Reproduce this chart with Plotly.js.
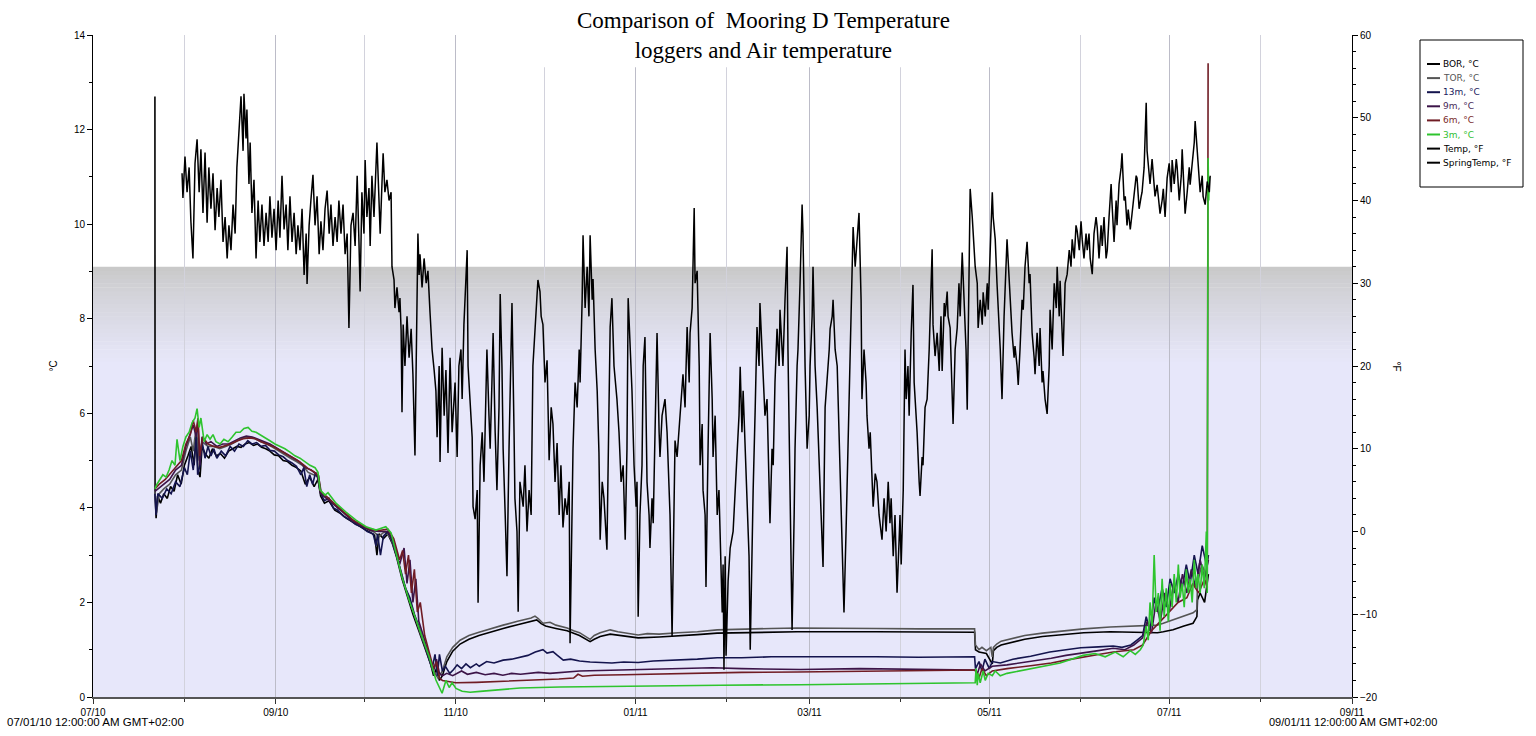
<!DOCTYPE html>
<html>
<head>
<meta charset="utf-8">
<script src="https://cdn.plot.ly/plotly-3.0.1.min.js"></script>
<style>html,body{margin:0;padding:0;background:#fff;}#chart{width:1536px;height:736px;}</style>
</head>
<body>
<div id="chart"></div>
<script>
// ---------------- DATA (days since 2010-07-01) ----------------
const seriesNames = ['BOR, °C','TOR, °C','13m, °C','9m, °C','6m, °C','3m, °C','Temp, °F','SpringTemp, °F'];

const borDay = [21.0,21.05,21.4,21.9,22.9,24.0,25.2,26.3,27.5,28.7,29.9,31.0,32.2,33.3,34.3,35.0,35.6,36.3,37.0,38.0,39.3,40.5,41.8,43.2,44.6,46.0,47.4,48.8,50.2,51.6,53.0,54.4,55.8,57.2,58.6,60.0,61.5,63.0,64.5,66.0,67.5,69.0,70.5,72.0,73.5,75.0,76.3,77.2,78.5,80.0,82.0,84.0,86.0,88.0,90.0,92.0,94.0,95.5,96.3,97.0,98.5,100.0,101.5,103.0,104.8,106.5,108.5,110.5,112.5,114.5,115.5,116.5,117.5,118.5,120.0,122.0,124.5,127.5,130.9,135.0,139.1,144.0,148.6,150.5,152.0,153.5,157.0,160.8,165.0,168.6,170.0,172.0,175.4,181.0,184.9,192.0,198.4,205.0,211.7,220.0,238.8,265.6,299.0,299.3,300.5,303.0,305.0,305.4,306.5,308.0,311.0,316.0,322.0,330.0,336.0,345.0,352.0,358.0,361.0,363.0,366.3,370.0,373.1,374.4,374.6,375.5,377.0,378.3];
const borC = [12.7,4.3,3.78,4.25,4.1,4.3,4.2,4.45,4.35,4.7,4.5,4.9,5.1,5.3,4.9,5.55,4.8,4.65,5.3,5.15,5.05,5.25,5.1,5.15,5.05,5.2,5.25,5.3,5.28,5.35,5.38,5.32,5.35,5.28,5.25,5.2,5.12,5.1,5.0,4.98,4.9,4.85,4.78,4.5,4.65,4.45,4.6,4.25,4.1,4.15,3.95,3.88,3.78,3.7,3.62,3.55,3.48,3.42,3.0,3.45,3.35,3.45,3.25,2.95,2.5,2.15,1.75,1.4,1.05,0.7,0.45,0.6,0.35,0.45,0.75,0.97,1.12,1.22,1.3,1.38,1.45,1.53,1.6,1.63,1.55,1.5,1.45,1.4,1.3,1.17,1.22,1.28,1.33,1.28,1.25,1.27,1.29,1.32,1.35,1.36,1.38,1.38,1.37,1.0,0.95,0.92,0.7,0.98,1.05,1.1,1.15,1.22,1.28,1.33,1.36,1.38,1.37,1.36,1.36,1.38,1.42,1.5,1.56,1.7,2.05,2.2,2.0,2.6];

const torDay = [21.0,21.5,22.5,24.0,26.0,28.0,30.0,31.5,33.0,34.0,35.0,36.0,37.0,39.0,41.0,43.0,45.0,47.0,49.0,51.0,53.0,55.0,57.0,59.0,61.0,63.0,65.0,67.0,69.0,71.0,73.0,75.0,76.5,77.5,80.0,83.0,86.0,89.0,92.0,95.0,97.0,99.0,101.0,103.0,105.0,107.0,109.0,111.0,113.0,115.0,117.0,118.5,120.0,122.0,124.5,127.5,130.9,135.0,139.1,144.0,148.6,149.9,151.0,152.6,155.0,157.0,160.8,163.0,165.0,168.6,170.0,172.0,175.4,178.0,181.0,184.9,188.0,192.0,198.4,205.0,211.7,220.0,230.0,238.8,250.0,265.6,280.0,290.0,299.0,299.3,300.5,301.5,303.0,304.5,305.0,305.4,306.5,308.0,311.0,316.0,322.0,330.0,336.0,345.0,352.0,356.0,360.9,363.0,366.3,370.0,373.1,374.4,374.6,376.0,377.5,378.3];
const torC = [4.35,3.9,4.3,4.4,4.5,4.7,4.8,5.2,5.5,5.2,5.7,5.0,5.4,5.3,5.3,5.25,5.3,5.35,5.42,5.48,5.5,5.46,5.4,5.35,5.28,5.2,5.12,5.05,4.98,4.9,4.75,4.7,4.65,4.3,4.2,4.0,3.85,3.7,3.58,3.5,3.4,3.5,3.35,3.0,2.5,2.1,1.7,1.35,1.0,0.6,0.4,0.55,0.85,1.05,1.2,1.3,1.37,1.45,1.52,1.6,1.67,1.71,1.66,1.56,1.58,1.52,1.46,1.4,1.36,1.22,1.3,1.36,1.42,1.38,1.35,1.31,1.34,1.33,1.36,1.38,1.42,1.44,1.45,1.46,1.46,1.45,1.44,1.44,1.44,1.1,1.0,1.05,0.98,1.05,0.85,1.05,1.12,1.18,1.23,1.3,1.35,1.4,1.44,1.48,1.5,1.52,1.52,1.56,1.63,1.7,1.78,1.85,2.4,2.8,2.6,3.0];

const m13Day = [21.0,21.4,22.0,23.5,25.0,26.5,28.0,29.5,31.0,32.0,33.0,34.0,35.0,35.5,36.3,37.0,38.0,39.0,40.0,41.0,42.0,43.5,45.0,46.5,48.0,49.5,51.0,52.5,54.0,55.5,57.0,58.5,60.0,61.5,63.0,64.5,66.0,67.5,69.0,70.5,71.5,72.5,73.5,74.5,75.5,76.5,77.3,78.5,80.0,81.5,83.0,85.0,87.0,89.0,91.0,93.0,95.0,96.0,96.5,97.5,98.5,100.0,101.5,103.0,104.5,106.0,107.5,109.0,110.5,112.0,113.5,115.0,116.0,116.8,117.5,118.5,119.5,121.0,122.3,123.5,125.0,126.5,128.0,130.0,131.0,133.5,136.0,139.1,142.0,145.0,147.5,150.0,151.5,152.6,154.0,156.0,157.5,159.5,162.0,165.0,168.6,172.0,176.0,180.0,184.9,190.0,198.4,205.0,211.7,220.0,230.0,238.8,250.0,265.6,280.0,290.0,299.0,299.3,300.5,301.5,302.5,304.0,305.0,307.7,312.0,318.0,324.5,330.0,335.0,341.0,346.0,349.0,352.0,354.0,356.0,357.2,358.5,359.9,361.0,362.6,364.0,365.3,366.7,368.1,369.4,370.8,372.1,373.5,374.8,376.2,377.6,378.3];
const m13C = [4.3,3.85,4.3,4.2,4.4,4.3,4.55,4.45,4.85,4.7,5.2,4.8,5.5,4.7,4.9,5.4,5.05,5.3,5.1,5.25,5.05,5.2,5.1,5.3,5.2,5.35,5.3,5.42,5.35,5.38,5.3,5.32,5.22,5.2,5.12,5.08,5.0,4.95,4.88,4.7,4.85,4.45,4.7,4.5,4.75,4.6,4.3,4.15,4.2,4.0,3.95,3.82,3.75,3.65,3.6,3.5,3.45,3.2,3.45,3.0,3.4,3.5,3.3,3.0,2.65,2.3,2.1,1.75,1.5,1.2,0.9,0.6,0.9,0.45,0.9,0.55,0.65,0.5,0.58,0.68,0.6,0.7,0.62,0.7,0.65,0.75,0.72,0.78,0.8,0.85,0.88,0.95,0.98,1.0,0.93,0.96,0.88,0.78,0.8,0.76,0.74,0.73,0.72,0.74,0.73,0.76,0.78,0.8,0.83,0.83,0.85,0.85,0.86,0.85,0.84,0.85,0.85,0.6,0.75,0.55,0.8,0.6,0.75,0.72,0.8,0.86,0.95,1.0,1.04,1.06,1.08,1.05,1.1,1.2,1.3,1.7,1.4,2.1,1.8,2.3,1.9,2.5,2.2,2.6,2.3,2.8,2.4,3.0,2.6,3.2,2.8,3.0];

const m9Day = [21.0,22.0,24.0,26.0,28.0,30.0,31.5,33.0,34.0,35.0,35.6,36.2,37.0,38.5,40.0,42.0,44.0,46.0,48.0,50.0,52.0,54.0,56.0,58.0,60.0,62.0,64.0,66.0,68.0,70.0,72.0,74.0,76.0,77.2,79.0,82.0,85.0,88.0,91.0,94.0,97.0,100.0,102.0,104.0,105.5,106.5,107.5,108.5,109.5,110.5,112.0,114.0,115.5,116.5,117.5,118.5,120.0,122.0,125.0,127.0,130.0,133.0,136.0,139.0,142.0,145.0,148.0,151.0,155.0,160.0,165.0,172.0,180.0,190.0,200.0,210.0,220.0,240.0,260.0,280.0,299.0,300.0,301.0,302.5,305.0,310.0,318.0,325.0,330.0,336.0,341.0,346.0,350.0,353.0,356.0,357.5,359.0,360.5,362.0,363.5,365.0,366.5,368.0,369.5,371.0,372.5,374.0,375.5,377.0,378.3];
const m9C = [4.35,4.4,4.5,4.6,4.8,4.9,5.3,5.6,5.75,5.5,5.85,4.9,5.5,5.35,5.4,5.3,5.35,5.35,5.42,5.48,5.52,5.5,5.45,5.4,5.35,5.28,5.2,5.12,5.05,4.98,4.85,4.8,4.7,4.3,4.2,4.05,3.9,3.72,3.62,3.52,3.5,3.5,3.3,2.8,3.15,2.4,2.9,2.0,2.5,1.6,1.3,0.9,0.55,0.8,0.5,0.45,0.5,0.45,0.55,0.48,0.52,0.47,0.5,0.46,0.5,0.48,0.5,0.52,0.5,0.53,0.55,0.56,0.57,0.58,0.6,0.62,0.6,0.58,0.6,0.58,0.57,0.5,0.7,0.55,0.65,0.68,0.75,0.82,0.88,0.93,0.98,1.03,1.0,1.1,1.25,1.6,1.35,2.0,1.6,2.2,1.8,2.4,2.0,2.6,2.2,2.7,2.3,2.9,2.5,2.9];

const m6Day = [21.0,22.5,24.5,26.5,28.5,30.0,31.5,33.0,34.0,35.0,35.6,36.2,37.2,39.0,41.0,43.0,45.0,47.0,49.0,51.0,53.0,55.0,57.0,59.0,61.0,63.0,65.0,67.0,69.0,71.0,73.0,75.0,76.5,77.2,79.0,82.0,85.0,88.0,91.0,94.0,97.0,100.0,102.0,104.0,105.0,106.0,107.0,108.0,109.0,110.0,111.0,112.5,114.0,115.5,116.5,117.5,118.5,123.0,130.0,140.0,150.0,158.0,163.0,164.5,166.0,170.0,180.0,198.4,220.0,238.8,270.0,299.0,299.5,300.5,301.5,303.0,305.0,310.0,318.0,325.0,330.0,336.0,341.0,346.0,350.0,353.0,356.0,359.0,362.0,365.0,368.0,371.0,373.0,375.0,377.0,377.9,378.2];
const m6C = [4.4,4.5,4.6,4.75,4.9,5.0,5.35,5.55,5.85,5.6,5.9,5.1,5.5,5.35,5.3,5.28,5.32,5.36,5.42,5.46,5.48,5.46,5.4,5.35,5.3,5.23,5.16,5.08,5.02,4.93,4.83,4.76,4.68,4.35,4.25,4.08,3.92,3.75,3.64,3.55,3.52,3.55,3.35,2.9,3.1,2.6,3.0,2.2,2.7,1.8,2.0,1.3,0.95,0.6,0.75,0.4,0.35,0.3,0.31,0.33,0.35,0.38,0.4,0.48,0.44,0.46,0.47,0.5,0.52,0.53,0.55,0.57,0.55,0.4,0.6,0.45,0.55,0.6,0.66,0.72,0.78,0.85,0.9,0.95,0.98,1.0,1.1,1.4,1.6,1.8,2.0,2.1,2.4,2.2,2.5,2.3,13.4];

const m3Day = [21.0,21.7,22.7,23.7,24.8,25.8,26.8,27.8,28.5,29.5,30.5,31.5,32.6,33.6,34.6,35.3,36.0,36.6,37.7,38.7,39.7,40.7,41.7,43.1,44.4,45.8,47.2,48.5,49.9,51.2,52.6,53.9,55.3,56.6,58.3,60.0,61.7,63.4,65.1,66.8,68.5,70.2,71.9,73.6,75.3,76.3,77.0,78.7,79.7,82.4,85.8,89.2,92.6,96.0,99.3,101.1,102.8,104.8,107.2,109.6,111.6,114.0,116.3,118.4,119.7,120.8,121.8,123.1,125.2,127.9,131.3,138.1,144.8,158.4,172.0,185.5,212.7,239.8,267.0,287.3,299.2,299.5,299.9,300.2,300.9,301.9,302.6,303.6,305.0,306.0,307.7,310.0,314.4,321.2,328.0,335.8,339.9,343.3,346.7,349.4,351.8,353.5,355.2,356.2,357.2,357.9,358.5,359.2,359.9,360.6,361.3,361.9,362.6,363.3,364.0,364.7,365.3,366.0,366.7,367.4,368.1,368.7,369.4,370.1,370.8,371.5,372.1,372.8,373.5,374.2,374.8,375.5,376.2,376.9,377.6,377.9,378.2,378.4,378.6];
const m3C = [4.4,4.5,4.6,4.7,4.65,4.8,5.0,4.9,5.45,5.0,5.3,5.5,5.6,5.8,5.9,6.1,5.7,5.9,5.4,5.55,5.45,5.55,5.4,5.35,5.45,5.4,5.5,5.6,5.6,5.68,5.7,5.62,5.6,5.55,5.5,5.42,5.35,5.3,5.25,5.18,5.1,5.05,4.97,4.9,4.85,4.75,4.38,4.27,4.32,4.1,3.91,3.74,3.6,3.53,3.6,3.47,3.04,2.54,2.05,1.63,1.27,0.85,0.36,0.08,0.35,0.2,0.3,0.18,0.12,0.1,0.12,0.15,0.19,0.21,0.22,0.24,0.25,0.26,0.28,0.29,0.3,0.6,0.25,0.5,0.3,0.55,0.35,0.5,0.45,0.55,0.45,0.5,0.55,0.63,0.72,0.88,0.92,0.85,0.95,0.85,0.98,0.9,1.0,1.1,1.5,1.2,2.0,1.5,3.0,1.8,2.2,1.4,2.5,1.7,2.3,1.6,2.4,1.9,2.6,2.0,2.8,2.1,2.4,1.9,2.7,2.2,2.5,2.0,2.9,2.3,2.6,2.2,2.8,2.3,3.5,2.2,11.4,10.5,11.0];

const airDay = [
30.2,30.5,31.2,31.9,32.6,33.2,33.9,34.6,35.3,36.0,
36.6,37.3,38.0,38.7,39.3,40.0,40.7,41.4,42.1,42.7,
43.4,44.1,44.8,45.5,46.1,46.8,47.5,48.2,48.8,49.5,
50.2,50.9,51.2,51.9,52.2,52.9,53.3,53.9,54.6,55.3,
56.0,56.6,57.3,58.0,58.7,59.4,60.0,60.7,61.4,62.1,
62.8,63.4,64.1,64.8,65.5,66.1,66.8,67.5,68.2,68.9,
69.5,70.2,70.9,71.6,72.3,72.6,73.3,73.9,74.6,75.3,
76.0,76.7,77.3,78.0,78.7,79.4,80.1,80.7,81.4,82.1,
82.8,83.4,84.1,84.8,85.5,86.2,86.8,87.5,88.2,88.9,
89.6,90.2,90.6,91.2,91.9,92.3,92.9,93.6,94.0,94.6,
95.3,96.3,97.0,97.4,98.0,98.4,99.0,99.7,100.4,101.1,
101.4,102.1,102.4,103.1,103.8,104.1,104.5,104.8,105.2,105.8,
106.5,107.2,107.9,108.5,109.2,109.6,109.9,110.2,110.6,110.9,
111.6,112.3,113.0,113.6,114.3,115.0,115.7,116.3,116.7,117.4,
117.7,118.4,119.1,119.7,120.4,121.1,121.8,122.8,123.5,124.1,
124.8,125.2,125.8,126.9,127.2,127.9,128.6,128.9,129.6,130.3,
130.6,131.3,132.0,132.6,133.6,134.3,134.7,135.3,135.7,136.4,
137.0,137.7,138.1,138.7,139.1,139.8,140.4,141.1,142.1,142.8,
143.1,143.8,144.2,144.8,145.9,146.5,147.2,147.9,148.6,149.2,
150.3,150.9,151.6,152.0,152.6,153.3,154.0,154.7,155.4,156.0,
156.7,157.4,158.1,158.7,159.4,160.1,160.8,161.5,161.8,162.5,
162.8,163.5,164.2,164.9,165.2,165.9,166.2,166.9,167.6,168.2,
168.6,169.3,169.6,170.3,171.0,171.6,172.0,172.7,173.3,174.3,
175.0,175.4,176.0,176.7,177.7,178.4,179.1,179.8,180.5,181.1,
181.5,182.2,182.8,183.5,184.2,184.5,184.9,185.5,186.2,186.6,
187.2,187.9,188.6,188.9,189.6,190.0,190.6,191.3,192.0,192.3,
193.0,194.0,194.7,195.0,195.7,196.4,197.1,197.4,198.1,199.1,
199.8,200.1,200.8,201.5,202.2,202.5,203.2,203.9,204.2,204.9,
205.6,205.9,206.6,206.9,207.6,207.9,208.6,209.3,210.0,210.3,
211.0,211.7,212.3,213.0,213.4,213.7,214.0,214.4,214.7,215.4,
216.1,217.1,217.8,218.4,219.1,219.5,220.1,220.5,221.2,221.8,
222.5,222.9,223.5,223.9,224.6,225.2,225.9,226.2,226.9,227.3,
227.9,228.6,229.3,229.6,230.3,230.7,231.3,232.0,232.7,233.0,
233.7,234.0,234.7,235.4,235.7,236.4,236.8,237.1,237.8,238.1,
238.8,239.1,239.8,240.5,240.8,241.5,242.2,242.9,243.2,243.9,
244.2,244.9,245.6,246.3,246.6,247.3,247.6,248.3,249.0,249.7,
250.0,250.7,251.0,251.7,252.4,253.0,253.4,254.1,254.7,255.4,
255.8,256.4,256.8,257.5,257.8,258.5,259.1,259.8,260.5,260.8,
261.5,262.2,262.5,263.2,263.6,264.2,264.6,265.3,265.9,266.6,
267.6,268.3,269.0,269.7,270.3,270.7,271.4,272.0,272.7,273.4,
273.7,274.1,274.8,275.4,275.8,276.4,276.8,277.5,278.1,278.5,
279.2,279.5,280.2,280.5,281.2,281.5,282.2,282.9,283.6,283.9,
284.6,284.9,285.6,286.3,287.0,287.6,288.0,288.7,289.0,289.7,
290.0,290.7,291.0,291.7,292.4,293.1,293.7,294.1,294.8,295.4,
296.1,296.5,297.1,297.5,298.2,298.5,299.2,299.9,300.2,300.9,
301.6,301.9,302.6,303.3,303.6,304.3,305.0,305.3,306.0,306.6,
307.0,307.7,308.3,309.0,310.0,310.7,311.0,311.7,312.4,312.7,
313.4,313.8,314.4,315.1,315.5,316.1,316.8,317.5,317.8,318.5,
319.2,319.5,320.2,320.9,321.2,321.9,322.2,322.9,323.6,324.3,
324.6,325.3,326.0,326.7,327.0,327.7,328.0,328.7,329.0,329.7,
330.4,331.1,331.7,332.1,332.8,333.4,333.8,334.5,335.1,335.5,
336.1,336.8,337.2,337.8,338.2,338.9,339.5,340.2,340.6,341.2,
341.9,342.3,342.9,343.6,344.0,344.6,345.3,345.6,346.3,347.0,
347.3,348.0,348.7,349.0,349.7,350.1,350.7,351.1,351.8,352.4,
353.1,353.8,354.1,354.8,355.5,355.8,356.5,357.2,357.5,357.9,
358.5,359.2,359.6,360.2,360.9,361.6,361.9,362.6,363.0,363.6,
364.3,365.0,365.7,366.0,366.7,367.4,367.7,368.4,369.1,369.4,
370.1,370.4,371.1,371.8,372.1,372.8,373.5,373.8,374.5,374.8,
375.5,376.2,376.5,377.2,377.9,378.6,378.9];
const airF = [
43.3,40.3,45.3,41.0,44.0,37.5,33.0,44.5,47.4,41.0,
46.2,38.5,45.8,37.3,44.0,39.0,43.3,36.4,41.5,38.0,
42.5,35.0,38.0,33.0,37.0,34.0,39.5,36.0,44.0,48.0,
52.6,46.0,52.9,47.5,51.0,42.0,47.0,38.5,42.5,33.0,
40.0,35.0,39.5,34.5,38.5,35.0,40.5,35.5,39.0,34.0,
40.0,35.5,43.0,36.5,39.5,34.0,40.5,35.0,38.5,33.5,
37.0,34.0,39.0,31.0,36.0,29.9,37.0,40.0,43.1,37.0,
40.5,33.5,37.5,34.0,39.0,41.2,36.0,39.5,34.5,38.0,
35.0,40.0,36.0,39.5,33.5,36.0,24.6,37.0,38.5,34.5,
43.0,35.0,29.0,41.0,36.0,44.9,38.0,41.5,34.5,43.0,
38.0,47.0,40.0,36.0,42.0,45.7,41.0,42.5,40.0,41.0,
32.0,30.4,27.0,29.5,26.5,28.2,24.3,14.4,25.0,20.0,
26.0,21.0,24.5,19.0,9.2,22.0,30.0,36.0,31.0,33.5,
29.5,33.0,30.0,31.5,26.5,22.0,19.5,17.0,11.4,20.0,
8.4,22.2,14.0,19.5,9.5,21.0,12.0,18.0,9.0,20.0,
22.0,16.0,25.0,34.0,20.0,16.0,11.4,3.0,1.5,5.0,
-8.6,8.0,12.0,6.0,22.0,14.0,10.0,18.0,24.0,12.0,
5.0,15.0,28.7,20.0,10.0,2.0,-5.4,10.0,27.6,12.0,
4.0,0.0,-9.7,6.0,3.0,8.0,0.0,5.0,2.0,20.0,
27.0,30.4,29.0,26.0,25.0,18.0,20.7,8.6,15.0,13.0,
6.0,10.7,2.0,8.0,0.5,4.0,2.0,6.0,-13.5,3.0,
10.0,18.0,15.0,22.0,18.0,28.0,35.8,27.0,32.0,26.0,
35.8,28.0,30.5,22.0,17.0,9.5,-1.0,6.0,4.0,-2.2,
20.0,24.7,28.2,20.0,16.0,12.0,6.0,8.0,-1.0,10.0,
28.2,22.0,17.0,8.0,3.0,6.0,-10.3,2.0,8.0,20.0,
23.5,6.0,2.0,-2.0,4.0,1.0,14.0,24.0,12.0,9.0,
14.0,16.0,12.0,8.0,2.0,-12.7,5.0,11.0,9.0,14.0,
17.0,19.0,15.0,24.7,18.0,24.0,27.0,39.1,30.0,31.5,
20.0,8.0,13.0,5.0,2.0,-6.7,10.0,24.0,16.0,9.0,
14.0,2.0,5.0,-3.0,-9.8,-4.0,-16.7,-3.0,-15.0,-6.0,
-2.0,0.0,5.0,9.0,14.0,19.9,12.0,17.0,10.0,5.0,
-3.0,-14.3,-2.0,5.0,15.0,24.7,20.0,27.6,22.0,19.0,
14.0,16.0,6.0,1.0,10.0,8.0,18.0,24.5,20.0,26.8,
22.0,20.0,28.0,34.4,22.0,6.0,-2.0,-11.9,2.0,10.0,
20.0,22.0,30.0,39.5,36.0,20.0,10.0,14.0,20.0,26.0,
32.0,20.0,15.0,8.0,6.0,0.0,-4.3,15.0,18.0,22.0,
24.5,26.0,28.0,22.0,20.0,12.0,6.0,-2.0,-9.8,0.0,
6.0,14.0,20.0,30.0,36.8,32.0,35.0,38.5,28.0,16.0,
22.0,18.0,14.0,10.0,12.0,6.0,3.0,7.0,6.0,2.0,
-1.0,4.0,0.0,6.0,1.0,4.0,-3.0,2.0,-7.4,-1.0,
2.0,-4.0,5.0,22.0,16.0,20.0,14.0,24.0,29.8,18.0,
14.0,12.0,6.0,4.3,9.0,8.0,15.0,16.0,22.0,26.0,
34.1,25.0,21.2,24.0,19.4,26.0,19.4,27.6,26.0,29.0,
26.0,24.6,20.0,13.0,22.0,24.6,30.0,26.0,33.7,28.0,
22.0,14.7,30.0,41.4,38.0,36.3,32.0,30.0,24.6,28.0,
25.0,28.9,26.0,30.0,26.8,34.0,41.0,38.0,35.3,30.0,
27.6,22.0,16.0,26.0,35.3,30.0,28.9,24.0,21.0,22.4,
20.0,17.7,22.0,28.0,26.8,32.0,35.0,30.0,31.1,24.0,
21.0,19.0,24.0,20.0,24.6,18.0,19.4,16.0,14.2,20.0,
26.8,22.0,30.0,27.0,32.0,26.0,30.3,24.0,21.2,30.0,
31.1,34.0,32.0,35.3,33.0,37.0,36.3,34.0,37.5,35.3,
33.0,36.0,34.0,36.0,33.0,31.1,36.0,38.0,36.7,33.0,
37.0,34.5,38.0,33.0,34.0,38.0,42.0,39.7,35.0,40.0,
37.0,42.0,44.0,45.7,40.0,40.5,37.0,38.9,36.5,38.4,
41.0,43.0,42.7,39.0,40.5,41.0,44.0,51.8,46.0,44.0,
42.0,45.0,43.2,40.5,41.9,39.0,38.4,40.0,41.4,38.0,
42.7,44.5,41.0,44.9,42.0,45.0,44.0,40.0,43.0,46.2,
41.0,38.4,41.0,44.0,41.9,45.0,47.0,49.6,46.0,44.9,
41.0,43.0,40.5,39.5,42.3,41.0,43.0];

const springDay = [null];
const springF = [null];

const xTickStart = '2010-07-01';
const xRange = ['2010-07-01', '2011-09-01'];
const leftRange = [0, 14];
const rightRange = [-20, 60];
const freezingF = 32;

// ---------------- BUILD ----------------
const START = Date.UTC(2010, 6, 1);
function toDate(d) {
  if (d === null) return null;
  return new Date(START + d * 86400000).toISOString().slice(0, 19).replace('T', ' ');
}
function pairUp(days, vals) {
  const n = Math.min(days.length, vals.length);
  return { x: days.slice(0, n).map(toDate), y: vals.slice(0, n) };
}

const lineColors = ['#000000', '#555555', '#14144e', '#3c1448', '#701c24', '#2ec42e', '#000000', '#000000'];
const textColors = ['#000000', '#555555', '#1a1a5e', '#4a2a5a', '#7a2a2a', '#33c033', '#000000', '#000000'];
const sets = [[borDay, borC], [torDay, torC], [m13Day, m13C], [m9Day, m9C], [m6Day, m6C], [m3Day, m3C], [airDay, airF], [springDay, springF]];

const traces = sets.map((s, i) => {
  const p = pairUp(s[0], s[1]);
  return {
    type: 'scatter', mode: 'lines', x: p.x, y: p.y,
    name: seriesNames[i], showlegend: false,
    yaxis: i >= 6 ? 'y2' : 'y',
    line: { color: lineColors[i], width: i >= 6 ? 1.5 : 1.6 },
    hoverinfo: 'skip'
  };
});

// background: white above freezing, gray gradient fading into lavender below
const shapes = [];
shapes.push({ type: 'rect', xref: 'paper', x0: 0, x1: 1, yref: 'y2', y0: rightRange[0], y1: 20, fillcolor: '#e7e7fa', line: { width: 0 }, layer: 'below' });
const steps = 24;
for (let i = 0; i < steps; i++) {
  const t = i / (steps - 1);
  const e = Math.pow(t, 0.85);
  const r = Math.round(201 + (231 - 201) * e), g = Math.round(201 + (231 - 201) * e), b = Math.round(201 + (250 - 201) * e);
  const top = freezingF - i * (12 / steps);
  shapes.push({ type: 'rect', xref: 'paper', x0: 0, x1: 1, yref: 'y2', y0: top - 12 / steps - 0.05, y1: top, fillcolor: 'rgb(' + r + ',' + g + ',' + b + ')', line: { width: 0 }, layer: 'below' });
}
// white area behind title covering the grid
shapes.push({ type: 'rect', xref: 'x', x0: '2010-11-16', x1: '2011-05-18', yref: 'y', y0: 13.32, y1: 14, fillcolor: '#ffffff', line: { width: 0 }, layer: 'between' });

// legend (box, short line keys, coloured labels)
const pxX = px => (px - 93) / 1259;
const pxY = py => (697 - py) / 662;
shapes.push({ type: 'rect', xref: 'paper', yref: 'paper', x0: pxX(1420), x1: pxX(1523), y0: pxY(187), y1: pxY(40), fillcolor: 'rgba(255,255,255,0)', line: { color: '#000', width: 1 } });
const annotations = [];
const legendFont = { family: 'DejaVu Sans, Liberation Sans, sans-serif', size: 9 };
seriesNames.forEach((nm, i) => {
  const yc = 64 + i * 14.1;
  shapes.push({ type: 'line', xref: 'paper', yref: 'paper', x0: pxX(1427), x1: pxX(1440), y0: pxY(yc), y1: pxY(yc), line: { color: lineColors[i], width: 2 } });
  annotations.push({ text: nm, xref: 'paper', yref: 'paper', x: pxX(1441), y: pxY(yc), xanchor: 'left', yanchor: 'middle', showarrow: false, font: Object.assign({ color: textColors[i] }, legendFont) });
});

const tickFont = { family: 'Liberation Sans, Arial, sans-serif', size: 10, color: '#000' };
annotations.push(
  { text: '°C', xref: 'paper', yref: 'paper', x: pxX(45), y: 0.5, showarrow: false, textangle: -90, font: tickFont },
  { text: '°F', xref: 'paper', yref: 'paper', x: pxX(1404), y: 0.5, showarrow: false, textangle: 90, font: tickFont },
  { text: '07/01/10 12:00:00 AM GMT+02:00', xref: 'paper', yref: 'paper', x: pxX(5), y: pxY(722), xanchor: 'left', yanchor: 'middle', showarrow: false, font: { family: tickFont.family, size: 11.5, color: '#000' } },
  { text: '09/01/11 12:00:00 AM GMT+02:00', xref: 'paper', yref: 'paper', x: pxX(1267), y: pxY(722), xanchor: 'left', yanchor: 'middle', showarrow: false, font: { family: tickFont.family, size: 11, color: '#000' } }
);

const layout = {
  width: 1536, height: 736,
  margin: { l: 93, r: 184, t: 35, b: 39, pad: 0 },
  paper_bgcolor: '#ffffff', plot_bgcolor: '#ffffff',
  showlegend: false,
  title: {
    text: 'Comparison of  Mooring D Temperature<br>loggers and Air temperature',
    font: { family: 'Liberation Serif, Times New Roman, serif', size: 23, color: '#000' },
    xref: 'container', x: 0.497, xanchor: 'center',
    yref: 'container', y: 0.962, yanchor: 'top'
  },
  xaxis: {
    type: 'date', range: xRange, tick0: xTickStart, dtick: 'M2', tickformat: '%m/%y',
    ticks: 'outside', ticklen: 5, tickcolor: '#333', tickfont: tickFont,
    showline: true, linecolor: '#555', linewidth: 1.5,
    showgrid: true, gridcolor: '#bcbcc8', gridwidth: 1, zeroline: false,
    minor: { dtick: 'M1', tick0: xTickStart, ticks: 'outside', ticklen: 3, tickcolor: '#333', showgrid: true, gridcolor: '#d2d2dc', gridwidth: 1 }
  },
  yaxis: {
    range: leftRange, dtick: 2, ticks: 'outside', ticklen: 5, tickcolor: '#000', tickfont: tickFont,
    showline: true, linecolor: '#000', linewidth: 1, showgrid: false, zeroline: false,
    minor: { dtick: 1, ticks: 'outside', ticklen: 3, tickcolor: '#000', showgrid: false }
  },
  yaxis2: {
    overlaying: 'y', side: 'right', range: rightRange, dtick: 10,
    ticks: 'outside', ticklen: 5, tickcolor: '#000', tickfont: tickFont,
    showline: true, linecolor: '#000', linewidth: 1, showgrid: false, zeroline: false,
    minor: { dtick: 2, ticks: 'outside', ticklen: 3, tickcolor: '#000', showgrid: false }
  },
  shapes: shapes,
  annotations: annotations
};

Plotly.newPlot('chart', traces, layout, { displayModeBar: false, staticPlot: true });
</script>
</body>
</html>
